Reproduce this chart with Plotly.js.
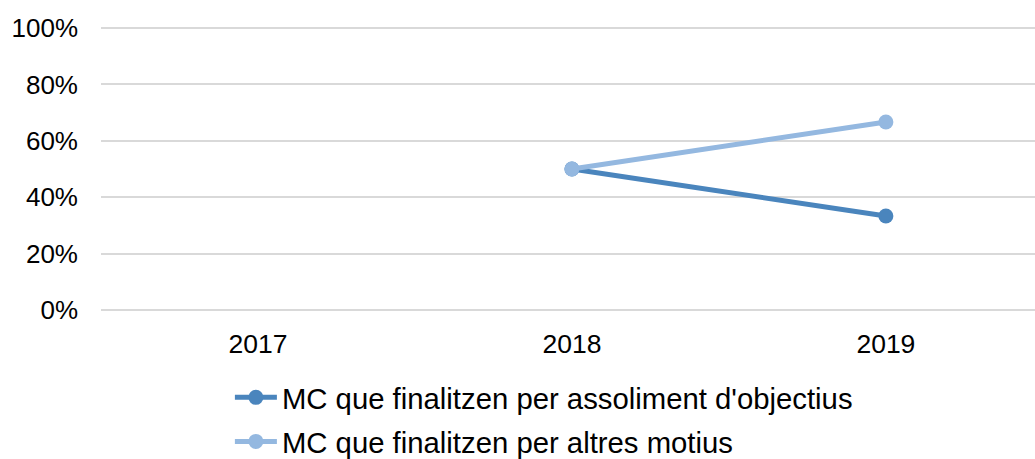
<!DOCTYPE html>
<html>
<head>
<meta charset="utf-8">
<script src="https://cdn.plot.ly/plotly-3.0.1.min.js"></script>
<style>html,body{margin:0;padding:0;background:#fff;}#chart{width:1035px;height:459px;}</style>
</head>
<body>
<div id="chart"></div>
<script>
const years = ['2017', '2018', '2019'];
const seriesNames = ["MC que finalitzen per assoliment d'objectius", 'MC que finalitzen per altres motius'];
const assoliment = [null, 0.50, 0.333];
const altres = [null, 0.50, 0.667];
const yTicks = [0, 0.2, 0.4, 0.6, 0.8, 1.0];
const yTickLabels = ['0%', '20%', '40%', '60%', '80%', '100%'];

const traces = [
  {x: years, y: assoliment, name: seriesNames[0], legendgroup: 'a', type: 'scatter', mode: 'lines+markers',
   line: {color: '#4a85bd', width: 5}, marker: {color: '#4a85bd', size: 15}},
  {x: years, y: altres, name: seriesNames[1], legendgroup: 'b', type: 'scatter', mode: 'lines+markers',
   line: {color: '#94b8e0', width: 5}, marker: {color: '#94b8e0', size: 15}}
];

const layout = {
  width: 1035, height: 459,
  margin: {l: 101, r: 0, t: 27, b: 148},
  paper_bgcolor: '#fff', plot_bgcolor: '#fff',
  font: {family: 'Liberation Sans, Arial, sans-serif', color: '#000', size: 26},
  showlegend: true,
  xaxis: {type: 'category', range: [-0.5, 2.475], showgrid: false, zeroline: false,
          showline: false, ticks: '', tickfont: {size: 26.5}, ticklabelstandoff: 14, fixedrange: true},
  yaxis: {range: [-0.004, 1.004], tickvals: yTicks, ticktext: yTickLabels, showgrid: true,
          gridcolor: '#d9d9d9', gridwidth: 2, zeroline: false, showline: false,
          ticks: '', tickfont: {size: 26}, ticklabelstandoff: 22, fixedrange: true},
  legend: {orientation: 'v', x: 0.138, xanchor: 'left', yref: 'container', y: 0.19, yanchor: 'top',
           font: {size: 29.3}, tracegroupgap: 3, itemwidth: 42, bgcolor: 'rgba(0,0,0,0)'}
};

Plotly.newPlot('chart', traces, layout, {displayModeBar: false, staticPlot: true});
</script>
</body>
</html>
